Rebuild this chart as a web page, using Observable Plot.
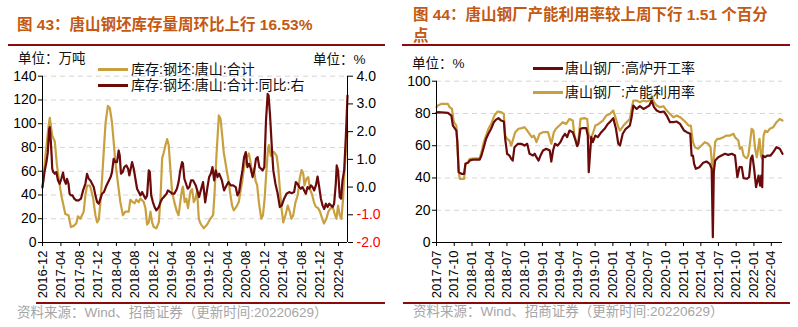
<!DOCTYPE html>
<html><head><meta charset="utf-8">
<script src="https://cdn.jsdelivr.net/npm/d3@7"></script>
<script src="https://cdn.jsdelivr.net/npm/@observablehq/plot@0.6"></script>
<style>
body{margin:0;background:#fff;}
#page{position:relative;width:798px;height:327px;overflow:hidden;font-family:"Liberation Sans","Noto Sans CJK SC",sans-serif;background:#fff;}
.abs{position:absolute;white-space:nowrap;line-height:1;}
.title{font-weight:bold;color:#C45911;font-size:15.5px;line-height:21px;}
.unit{font-size:13.5px;color:#111;}
.leg{font-size:14px;color:#111;}
.sw{position:absolute;width:30px;height:3px;}
.sep{position:absolute;background:#8B0A0A;}
.src{font-size:13.5px;color:#A6A6A6;}
svg{background:transparent !important;}
</style></head>
<body><div id="page">
<div id="c1" class="abs" style="left:0;top:50px"></div>
<div id="c2" class="abs" style="left:395px;top:50px"></div>

<div class="abs title" style="left:17px;top:14px">图 43：唐山钢坯库存量周环比上行 16.53%</div>
<div class="abs title" style="left:413px;top:4px">图 44：唐山钢厂产能利用率较上周下行 1.51 个百分<br>点</div>
<div class="sep" style="left:8px;top:44px;width:377px;height:2px"></div>
<div class="sep" style="left:402px;top:44px;width:388px;height:2px"></div>
<div class="sep" style="left:36px;top:302px;width:349px;height:2px"></div>
<div class="sep" style="left:403px;top:302px;width:387px;height:2px"></div>

<div class="abs unit" style="left:18px;top:52px">单位：万吨</div>
<div class="abs unit" style="left:313px;top:53px">单位：%</div>
<div class="abs unit" style="left:412px;top:57px">单位：%</div>

<div class="sw" style="left:98px;top:68px;background:#C9A03F"></div>
<div class="abs leg" style="left:131px;top:62px">库存:钢坯:唐山:合计</div>
<div class="sw" style="left:98px;top:84px;background:#6B0A0A"></div>
<div class="abs leg" style="left:131px;top:78px">库存:钢坯:唐山:合计:同比:右</div>

<div class="sw" style="left:533px;top:67px;background:#6B0A0A"></div>
<div class="abs leg" style="left:565px;top:61px">唐山钢厂:高炉开工率</div>
<div class="sw" style="left:533px;top:91px;background:#C9A03F"></div>
<div class="abs leg" style="left:565px;top:85px">唐山钢厂:产能利用率</div>

<div class="abs src" style="left:17px;top:306px">资料来源：Wind、招商证券（更新时间:20220629）</div>
<div class="abs src" style="left:413px;top:305px">资料来源：Wind、招商证券（更新时间:20220629）</div>
</div>
<script>
// ---- Left chart: 唐山钢坯库存 (万吨) ----
const invDates = ["2016-12-01","2016-12-22","2017-01-10","2017-01-18","2017-02-03","2017-02-20","2017-03-06","2017-03-28","2017-04-08","2017-04-30","2017-05-21","2017-06-06","2017-06-24","2017-07-11","2017-07-22","2017-08-07","2017-08-18","2017-08-29","2017-09-09","2017-09-20","2017-10-08","2017-10-16","2017-10-30","2017-11-14","2017-11-25","2017-12-06","2017-12-17","2017-12-28","2018-01-09","2018-01-20","2018-02-04","2018-02-17","2018-03-03","2018-03-14","2018-03-25","2018-04-10","2018-04-27","2018-05-14","2018-05-30","2018-06-21","2018-07-02","2018-07-17","2018-07-30","2018-08-10","2018-08-26","2018-09-06","2018-09-28","2018-10-09","2018-10-20","2018-10-31","2018-11-11","2018-11-22","2018-12-03","2018-12-20","2019-01-05","2019-01-16","2019-01-27","2019-02-07","2019-02-18","2019-03-01","2019-03-11","2019-03-22","2019-04-02","2019-04-17","2019-05-04","2019-05-15","2019-05-26","2019-06-07","2019-06-13","2019-06-24","2019-07-05","2019-07-16","2019-08-01","2019-08-12","2019-08-23","2019-09-03","2019-09-14","2019-09-25","2019-10-06","2019-10-27","2019-11-18","2019-12-10","2019-12-28","2020-01-06","2020-01-19","2020-02-04","2020-02-15","2020-02-26","2020-03-07","2020-03-25","2020-04-09","2020-04-20","2020-05-01","2020-05-12","2020-05-29","2020-06-14","2020-06-25","2020-07-06","2020-07-17","2020-08-02","2020-08-19","2020-08-30","2020-09-10","2020-09-21","2020-10-02","2020-10-13","2020-10-24","2020-11-09","2020-11-20","2020-12-01","2020-12-12","2020-12-23","2020-12-29","2021-01-10","2021-01-21","2021-02-01","2021-02-18","2021-03-01","2021-03-11","2021-03-22","2021-04-02","2021-04-17","2021-05-02","2021-05-15","2021-05-26","2021-06-07","2021-06-22","2021-07-07","2021-07-20","2021-08-01","2021-08-12","2021-08-20","2021-09-03","2021-09-14","2021-09-25","2021-10-10","2021-10-21","2021-11-03","2021-11-17","2021-11-30","2021-12-15","2021-12-26","2022-01-11","2022-01-24","2022-02-08","2022-02-24","2022-03-07","2022-03-18","2022-03-29","2022-04-09","2022-04-20","2022-05-01","2022-05-10","2022-05-21","2022-05-30"];
const invValues = [46,75,98,105,90,85,65,45,37,24,23,13,14,16,22,20,23,26,40,48,48,45,37,23,17,19,34,54,79,101,115,113,101,85,68,51,34,23,26,26,36,34,33,36,34,37,34,29,15,17,26,17,13,12,17,37,71,76,82,87,82,62,43,34,26,23,34,45,47,34,37,29,43,45,34,37,43,20,16,12,15,20,23,40,73,107,104,90,76,62,51,40,31,27,30,34,43,51,62,71,75,68,57,62,52,48,34,20,23,37,59,79,82,73,76,76,73,62,45,29,17,23,31,26,20,23,34,40,54,61,58,48,54,55,45,40,34,30,29,26,20,16,20,26,29,29,24,20,31,23,20,37,59,80,93];

// ---- Left chart: 同比 (%, right axis) ----
const yoyDates = ["2016-12-01","2016-12-14","2016-12-27","2017-01-05","2017-01-14","2017-01-18","2017-01-25","2017-01-30","2017-02-03","2017-02-10","2017-02-20","2017-03-02","2017-03-13","2017-03-24","2017-04-04","2017-04-15","2017-04-24","2017-05-04","2017-05-11","2017-05-21","2017-05-28","2017-06-06","2017-06-17","2017-06-28","2017-07-11","2017-07-27","2017-08-11","2017-08-25","2017-09-09","2017-09-20","2017-10-01","2017-10-12","2017-10-23","2017-11-03","2017-11-14","2017-11-25","2017-12-06","2017-12-17","2017-12-28","2018-01-09","2018-01-26","2018-02-11","2018-02-22","2018-03-03","2018-03-14","2018-03-25","2018-04-05","2018-04-16","2018-04-23","2018-05-01","2018-05-12","2018-05-23","2018-06-06","2018-06-17","2018-06-25","2018-07-02","2018-07-13","2018-07-24","2018-08-04","2018-08-15","2018-08-26","2018-09-06","2018-09-17","2018-09-28","2018-10-09","2018-10-20","2018-10-31","2018-11-07","2018-11-16","2018-11-27","2018-12-08","2018-12-20","2019-01-05","2019-01-16","2019-01-27","2019-02-07","2019-02-25","2019-03-06","2019-03-22","2019-04-02","2019-04-17","2019-05-04","2019-05-15","2019-05-26","2019-06-07","2019-06-13","2019-06-22","2019-07-03","2019-07-14","2019-07-25","2019-08-05","2019-08-19","2019-09-05","2019-09-27","2019-10-08","2019-10-23","2019-11-06","2019-11-21","2019-12-02","2019-12-13","2019-12-24","2020-01-04","2020-01-15","2020-01-26","2020-02-06","2020-02-24","2020-03-09","2020-03-20","2020-04-07","2020-04-22","2020-05-08","2020-05-25","2020-06-05","2020-06-16","2020-06-27","2020-07-08","2020-07-19","2020-07-30","2020-08-10","2020-08-21","2020-09-01","2020-09-13","2020-09-24","2020-10-05","2020-10-16","2020-10-27","2020-11-07","2020-11-18","2020-11-29","2020-12-10","2020-12-21","2020-12-27","2021-01-05","2021-01-16","2021-01-27","2021-02-10","2021-02-25","2021-03-11","2021-03-24","2021-04-08","2021-04-24","2021-05-11","2021-05-28","2021-06-13","2021-06-24","2021-07-05","2021-07-16","2021-07-27","2021-08-07","2021-08-18","2021-08-29","2021-09-09","2021-09-20","2021-10-01","2021-10-12","2021-10-23","2021-11-03","2021-11-14","2021-11-25","2021-12-06","2021-12-17","2021-12-28","2022-01-08","2022-01-19","2022-01-30","2022-02-10","2022-02-21","2022-03-03","2022-03-14","2022-03-20","2022-03-29","2022-04-09","2022-04-18","2022-04-27","2022-05-08","2022-05-19","2022-05-30"];
const yoyValues = [0.0,0.54,0.9,1.26,2.1,2.16,1.62,1.14,0.66,0.54,0.48,0.54,0.24,0.12,0.3,0.52,0.24,0.12,0.3,0.12,-0.24,-0.3,-0.3,-0.42,-0.48,-0.48,-0.42,-0.12,0.12,0.48,0.3,0.24,0.12,0,-0.3,-0.54,-0.6,-0.42,-0.24,-0.18,0.06,0.24,0.36,0.54,1.02,0.9,0.9,1.32,1.14,0.48,0.54,0.72,0.78,0.66,0.42,0.6,0.9,0.66,0.3,-0.06,-0.18,-0.3,-0.18,-0.3,-0.42,-0.3,0.6,0.54,-0.3,-0.54,-0.72,-0.84,-0.72,-0.54,-0.42,-0.36,-0.24,-0.12,-0.18,-0.24,-0.24,-0.06,0.18,0.6,0.9,0.84,0.3,0.12,-0.06,0,0.24,0.24,0.06,-0.36,-0.12,0.18,-0.55,0,0.36,0.48,0.72,0.24,0.6,0.36,0.48,0.24,-0.12,0,0.18,0.06,0.06,0,-0.3,-0.18,0.24,0.6,1.08,1.26,0.72,0.84,0.66,0.36,0.6,1.02,1.08,0.72,0.66,0.6,0.72,2.4,3.36,3.3,2.64,1.56,0.6,0.12,-0.24,-0.72,-0.66,-0.42,-0.24,-0.18,-0.22,-0.18,0.18,0.12,0,-0.06,0,-0.12,-0.24,0,-0.06,0.06,0,-0.12,0.06,0.38,0,-0.42,-0.66,-0.79,-0.6,-0.72,-0.6,-0.66,-0.72,-0.6,0.12,0.78,0.6,-0.36,-0.42,0.24,0.6,1.8,3.3];

const leftXTicks = ["2016-12","2017-04","2017-08","2017-12","2018-04","2018-08","2018-12","2019-04","2019-08","2019-12","2020-04","2020-08","2020-12","2021-04","2021-08","2021-12","2022-04"];
const leftYTicks = [0,20,40,60,80,100,120,140];
const rightYTicks = [-2,-1,0,1,2,3,4];

// ---- Right chart: 高炉开工率 (%) ----
const bfDates = ["2017-07-01","2017-07-08","2017-08-29","2017-09-16","2017-09-24","2017-10-12","2017-10-17","2017-10-24","2017-11-07","2017-11-21","2017-11-28","2017-12-11","2017-12-20","2018-01-05","2018-02-10","2018-02-19","2018-03-03","2018-03-15","2018-03-27","2018-04-10","2018-04-24","2018-05-06","2018-05-18","2018-06-01","2018-06-15","2018-06-22","2018-07-02","2018-07-14","2018-07-23","2018-07-31","2018-08-09","2018-08-27","2018-09-13","2018-09-30","2018-10-14","2018-10-26","2018-11-13","2018-11-22","2018-12-01","2018-12-12","2018-12-22","2019-01-04","2019-01-21","2019-02-08","2019-02-16","2019-02-25","2019-03-07","2019-03-21","2019-04-04","2019-04-16","2019-04-28","2019-05-09","2019-05-21","2019-06-07","2019-06-19","2019-06-30","2019-07-06","2019-07-17","2019-07-29","2019-08-16","2019-08-24","2019-08-29","2019-09-04","2019-09-11","2019-09-19","2019-10-02","2019-10-15","2019-11-02","2019-11-19","2019-12-06","2019-12-16","2020-01-03","2020-01-17","2020-01-29","2020-02-07","2020-02-21","2020-03-08","2020-03-29","2020-04-07","2020-04-16","2020-05-03","2020-05-20","2020-06-07","2020-06-24","2020-07-08","2020-07-20","2020-08-01","2020-08-15","2020-09-02","2020-09-22","2020-10-06","2020-10-23","2020-11-10","2020-11-27","2020-12-14","2021-01-04","2021-01-18","2021-02-05","2021-02-12","2021-02-19","2021-02-25","2021-03-06","2021-03-24","2021-04-13","2021-04-30","2021-05-17","2021-05-27","2021-06-02","2021-06-07","2021-06-14","2021-06-30","2021-07-17","2021-08-04","2021-08-21","2021-09-08","2021-09-25","2021-10-07","2021-10-18","2021-10-30","2021-11-08","2021-11-25","2021-12-07","2021-12-16","2021-12-24","2022-01-02","2022-01-12","2022-01-25","2022-02-02","2022-02-08","2022-02-13","2022-02-16","2022-02-28","2022-03-11","2022-03-28","2022-04-11","2022-04-28","2022-05-15","2022-05-29"];
const bfValues = [80.4,80.8,80.4,78.7,72.5,69.4,62.2,43.6,42.6,42.6,48.8,49.4,50.8,51.4,51.4,53.9,59.1,64.3,67.4,70.5,74.6,76.2,77.1,75.6,75,64.3,55,53.9,51.9,50.8,59.1,61.2,61.2,60.1,61.2,55,53.9,55,52.9,50.8,53.9,57,58.1,57,50.2,57,61.2,60.1,62.2,65.3,67.4,65.3,69.4,68.4,64.3,59.7,61.2,70.5,70.9,70.9,66.3,43.6,53.9,65.3,62.2,66.3,65.3,68.4,70.5,73.5,74.6,77.1,70.5,61.2,60.1,67.4,70.5,72.5,77.7,84.9,82.8,84.5,82.8,83.9,84.9,88,83.9,81.8,80.8,81.2,78.7,74.6,74.6,75,73.5,69.4,68.4,67.4,53.9,53.9,48.8,45.7,46.7,49.4,50.2,48.8,45.7,3.3,43.6,50.8,52.9,53.9,55,54.3,55,53.9,40.5,46.7,46.7,39.9,39.5,40.5,51.9,53.9,45.7,34.3,41.5,35.3,41.5,34.3,53.9,52.9,53.9,53.9,56,59.1,58.1,55];

// ---- Right chart: 产能利用率 (%) ----
const capDates = ["2017-07-01","2017-07-08","2017-07-25","2017-08-29","2017-09-07","2017-09-19","2017-09-29","2017-10-12","2017-10-17","2017-10-24","2017-10-30","2017-11-21","2017-11-28","2017-12-11","2017-12-20","2018-02-10","2018-02-19","2018-03-03","2018-03-15","2018-03-27","2018-04-10","2018-04-27","2018-05-14","2018-06-01","2018-06-15","2018-06-22","2018-07-02","2018-07-14","2018-07-23","2018-07-31","2018-08-13","2018-08-30","2018-09-16","2018-09-30","2018-10-14","2018-10-26","2018-11-07","2018-11-18","2018-12-01","2018-12-17","2019-01-04","2019-01-30","2019-02-16","2019-03-01","2019-03-12","2019-03-30","2019-04-16","2019-05-04","2019-05-21","2019-06-07","2019-06-16","2019-06-30","2019-07-06","2019-07-17","2019-08-07","2019-08-21","2019-08-28","2019-09-07","2019-09-19","2019-10-02","2019-10-19","2019-11-10","2019-11-28","2019-12-16","2020-01-03","2020-01-17","2020-01-29","2020-02-07","2020-02-25","2020-03-12","2020-03-29","2020-04-07","2020-04-16","2020-05-03","2020-05-20","2020-06-07","2020-06-24","2020-07-08","2020-07-20","2020-08-01","2020-08-15","2020-09-02","2020-09-19","2020-10-06","2020-10-23","2020-11-10","2020-11-27","2020-12-14","2021-01-04","2021-01-27","2021-02-08","2021-02-19","2021-03-01","2021-03-18","2021-04-04","2021-04-21","2021-05-09","2021-05-21","2021-06-01","2021-06-07","2021-06-14","2021-06-25","2021-07-08","2021-07-26","2021-08-12","2021-08-30","2021-09-17","2021-09-25","2021-10-12","2021-10-20","2021-10-30","2021-11-08","2021-11-16","2021-11-25","2021-12-03","2021-12-12","2021-12-20","2021-12-29","2022-01-07","2022-01-16","2022-01-30","2022-02-06","2022-02-13","2022-02-20","2022-02-28","2022-03-11","2022-03-24","2022-04-11","2022-04-28","2022-05-15","2022-05-29"];
const capValues = [83.9,84.9,85.9,85.9,83.9,82.8,74.6,72.5,62.2,43.6,39.5,39.5,48.8,49.8,51.9,52.3,56,62.2,66.3,70.5,73.5,78.7,81.2,80.8,79.7,66.3,64.3,63.2,60.1,63.2,68.4,70.5,70.9,71.5,69.4,67.4,65.3,66.3,62.2,67.4,68.4,68.4,61.2,68.4,70.5,72.5,74.6,73.5,76.6,75.6,66.3,60.1,63.2,76.6,77.1,76.6,67.4,64.3,67.4,72.5,73.5,75.6,78.7,79.7,81.8,76.6,71.5,69.4,72.5,74.6,76.6,82.8,88,88,87,88,87.4,88,90.7,87,84.9,83.9,84.5,81.8,79.7,77.7,78.7,77.7,75.6,72.5,72.5,62.2,59.1,58.1,60.1,62.2,61.2,59.1,44.6,51.9,62.2,64.3,64.3,65.3,66.3,66.3,67.4,65.3,63.2,58.1,59.1,53.9,52.9,52.3,53.9,62.2,70.5,69.4,58.1,52.9,64.3,53.9,51.9,66.3,69.4,68.4,70.5,71.5,74.6,76.6,75.6];

const rightXTicks = ["2017-07","2017-10","2018-01","2018-04","2018-07","2018-10","2019-01","2019-04","2019-07","2019-10","2020-01","2020-04","2020-07","2020-10","2021-01","2021-04","2021-07","2021-10","2022-01","2022-04"];
const rYTicks = [0,20,40,60,80,100];

const GOLD = "#C9A03F", DARK = "#6B0A0A";
const parse = d3.utcParse("%Y-%m-%d");
const parseM = d3.utcParse("%Y-%m");
const fmtM = d3.utcFormat("%Y-%m");
const zip = (ds, vs) => ds.map((d, i) => ({date: parse(d), value: vs[i]}));
const inv = zip(invDates, invValues);
const yoy = zip(yoyDates, yoyValues);
const bf = zip(bfDates, bfValues);
const cap = zip(capDates, capValues);
const toLeft = d3.scaleLinear([-2, 4], [0, 140]);
const font = "'Liberation Sans', Arial, 'Noto Sans CJK SC', sans-serif";
const grid = {stroke: "#d6d6d6", strokeOpacity: 1, strokeDasharray: "5,4"};

const xDomL = d3.extent(inv, d => d.date);
const p1 = Plot.plot({
  width: 395, height: 253,
  marginLeft: 42, marginRight: 48, marginTop: 25.7, marginBottom: 61,
  style: {fontSize: "14px", fontFamily: font, background: "transparent", color: "#000", overflow: "visible"},
  x: {type: "utc", domain: xDomL},
  y: {domain: [0, 140]},
  marks: [
    Plot.gridY(leftYTicks.filter(d => d > 0), grid),
    Plot.line(inv, {x: "date", y: "value", stroke: GOLD, strokeWidth: 2.2}),
    Plot.line(yoy, {x: "date", y: d => toLeft(d.value), stroke: DARK, strokeWidth: 2.2}),
    Plot.ruleX(xDomL, {stroke: "#000"}),
    Plot.ruleY([0], {stroke: "#000"}),
    Plot.axisY(leftYTicks, {tickSize: 4, tickPadding: 2, label: null}),
    Plot.axisY(rightYTicks.filter(d => d >= 0), {anchor: "right", y: toLeft, tickFormat: d => d.toFixed(1), tickSize: 5, tickPadding: 4, label: null}),
    Plot.axisY(rightYTicks.filter(d => d < 0), {anchor: "right", y: toLeft, tickFormat: d => d.toFixed(1), tickSize: 5, tickPadding: 4, label: null, fill: "#FF0000"}),
    Plot.axisX(leftXTicks.map(parseM), {tickFormat: fmtM, tickRotate: -90, tickSize: 4, tickPadding: 4, label: null, fontSize: 13})
  ]
});
document.getElementById("c1").appendChild(p1);

const xDomR = d3.extent(bf, d => d.date);
const p2 = Plot.plot({
  width: 403, height: 253,
  marginLeft: 41, marginRight: 16, marginTop: 30.7, marginBottom: 61,
  style: {fontSize: "14px", fontFamily: font, background: "transparent", color: "#000", overflow: "visible"},
  x: {type: "utc", domain: xDomR},
  y: {domain: [0, 100]},
  marks: [
    Plot.gridY(rYTicks.filter(d => d > 0), grid),
    Plot.line(cap, {x: "date", y: "value", stroke: GOLD, strokeWidth: 2.2}),
    Plot.line(bf, {x: "date", y: "value", stroke: DARK, strokeWidth: 2.2}),
    Plot.ruleX([xDomR[0]], {stroke: "#000"}),
    Plot.ruleY([0], {stroke: "#000"}),
    Plot.axisY(rYTicks, {tickSize: 4, tickPadding: 2, label: null}),
    Plot.axisX(rightXTicks.map(parseM), {tickFormat: fmtM, tickRotate: -90, tickSize: 4, tickPadding: 4, label: null, fontSize: 13})
  ]
});
document.getElementById("c2").appendChild(p2);
</script>
</body></html>
